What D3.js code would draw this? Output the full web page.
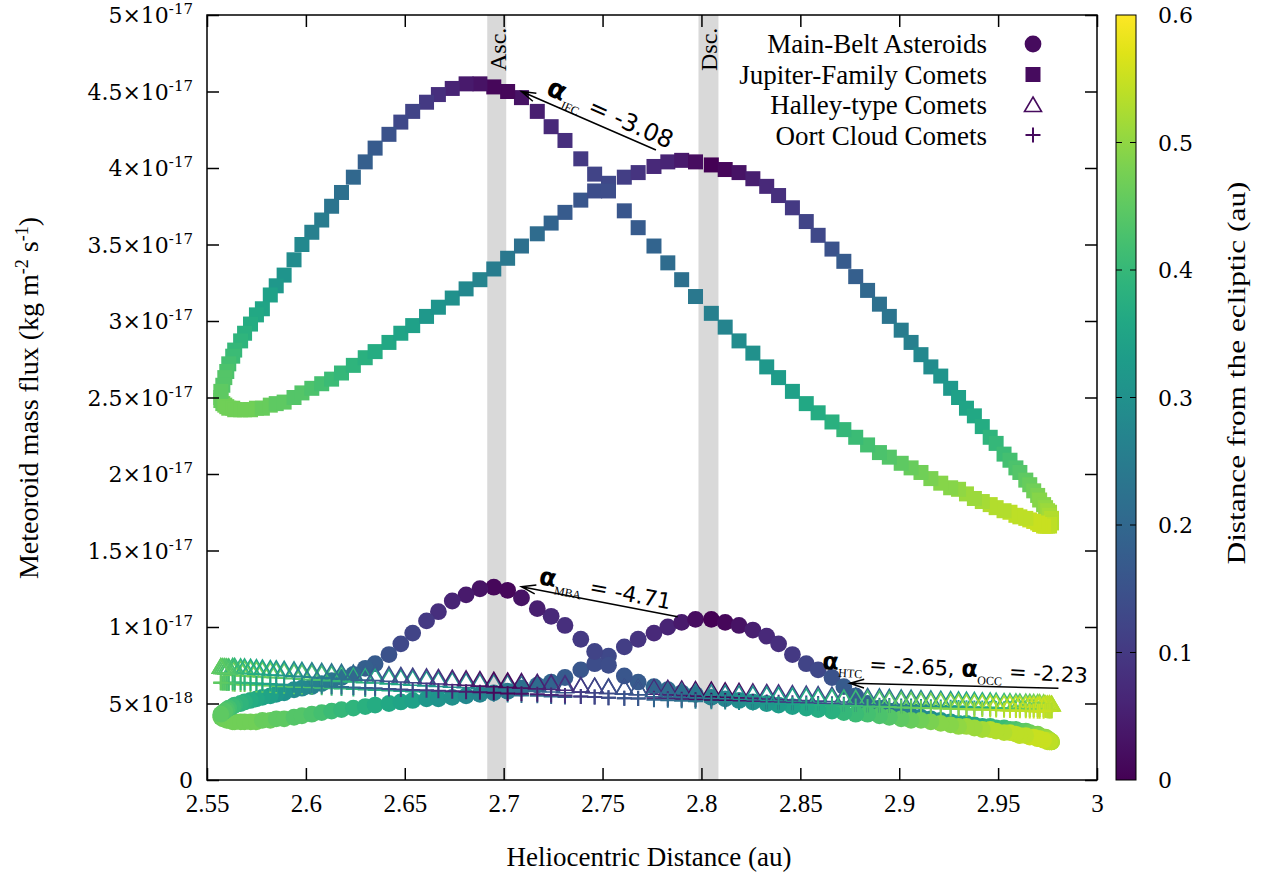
<!DOCTYPE html>
<html>
<head>
<meta charset="utf-8">
<script src="https://cdn.jsdelivr.net/npm/d3@7"></script>
<style>
body { margin: 0; background: #fff; }
</style>
</head>
<body>
<svg id="chart" width="1266" height="878" font-family="Liberation Serif"></svg>
<script>
// orbit sampled every 2 deg of mean anomaly, perihelion (i=0) -> aphelion (i=90)
// outbound half uses zOut / *Out, inbound half (same distances) uses zIn / *In
let dist = [2.557, 2.557, 2.558, 2.559, 2.560, 2.561, 2.563, 2.564, 2.567, 2.569,
    2.572, 2.575, 2.578, 2.582, 2.585, 2.589, 2.594, 2.598, 2.603, 2.608,
    2.613, 2.618, 2.624, 2.630, 2.635, 2.642, 2.648, 2.654, 2.661, 2.667,
    2.674, 2.681, 2.688, 2.695, 2.702, 2.709, 2.717, 2.724, 2.731, 2.739,
    2.746, 2.753, 2.761, 2.768, 2.776, 2.783, 2.790, 2.797, 2.805, 2.812,
    2.819, 2.826, 2.833, 2.839, 2.846, 2.853, 2.859, 2.866, 2.872, 2.878,
    2.884, 2.890, 2.895, 2.901, 2.906, 2.911, 2.916, 2.921, 2.926, 2.930,
    2.934, 2.938, 2.942, 2.946, 2.949, 2.953, 2.956, 2.959, 2.961, 2.964,
    2.966, 2.968, 2.970, 2.971, 2.973, 2.974, 2.975, 2.976, 2.976, 2.977,
    2.977]

// distance from the ecliptic (au)
let zOut = [0.45, 0.46, 0.46, 0.47, 0.47, 0.47, 0.47, 0.47, 0.47, 0.47,
    0.47, 0.47, 0.46, 0.46, 0.45, 0.45, 0.44, 0.44, 0.43, 0.42,
    0.41, 0.40, 0.39, 0.38, 0.37, 0.36, 0.35, 0.34, 0.32, 0.31,
    0.30, 0.28, 0.27, 0.25, 0.24, 0.22, 0.21, 0.19, 0.17, 0.16,
    0.14, 0.13, 0.11, 0.09, 0.07, 0.06, 0.04, 0.02, 0.00, 0.01,
    0.03, 0.05, 0.07, 0.08, 0.10, 0.12, 0.13, 0.15, 0.17, 0.18,
    0.20, 0.22, 0.23, 0.25, 0.26, 0.28, 0.29, 0.31, 0.32, 0.34,
    0.35, 0.36, 0.37, 0.39, 0.40, 0.41, 0.42, 0.43, 0.44, 0.45,
    0.46, 0.47, 0.48, 0.49, 0.49, 0.50, 0.51, 0.51, 0.52, 0.53,
    0.53]
let zIn = [0.45, 0.45, 0.44, 0.44, 0.43, 0.42, 0.41, 0.40, 0.39, 0.38,
    0.37, 0.36, 0.35, 0.34, 0.32, 0.31, 0.29, 0.28, 0.26, 0.25,
    0.23, 0.22, 0.20, 0.18, 0.17, 0.15, 0.13, 0.12, 0.10, 0.08,
    0.06, 0.04, 0.03, 0.01, 0.01, 0.03, 0.05, 0.07, 0.08, 0.10,
    0.12, 0.14, 0.16, 0.17, 0.19, 0.21, 0.22, 0.24, 0.26, 0.27,
    0.29, 0.30, 0.32, 0.33, 0.34, 0.36, 0.37, 0.38, 0.40, 0.41,
    0.42, 0.43, 0.44, 0.45, 0.46, 0.47, 0.48, 0.49, 0.49, 0.50,
    0.51, 0.51, 0.52, 0.53, 0.53, 0.53, 0.54, 0.54, 0.54, 0.54,
    0.55, 0.55, 0.55, 0.55, 0.55, 0.54, 0.54, 0.54, 0.54, 0.53,
    0.53]

// meteoroid mass flux, in units of 1e-17 kg m^-2 s^-1
let mbaOut = [0.42, 0.41, 0.40, 0.40, 0.39, 0.39, 0.38, 0.38, 0.38, 0.38,
    0.38, 0.38, 0.39, 0.39, 0.40, 0.40, 0.41, 0.42, 0.43, 0.44,
    0.45, 0.46, 0.47, 0.48, 0.49, 0.50, 0.51, 0.52, 0.53, 0.53,
    0.54, 0.55, 0.56, 0.57, 0.58, 0.60, 0.62, 0.64, 0.67, 0.72,
    0.76, 0.81, 0.87, 0.92, 0.96, 1.00, 1.03, 1.05, 1.05, 1.03,
    1.01, 0.98, 0.94, 0.89, 0.82, 0.76, 0.72, 0.67, 0.61, 0.55,
    0.50, 0.47, 0.45, 0.43, 0.42, 0.41, 0.40, 0.39, 0.38, 0.37,
    0.37, 0.36, 0.35, 0.35, 0.34, 0.34, 0.33, 0.33, 0.32, 0.32,
    0.31, 0.30, 0.30, 0.29, 0.28, 0.28, 0.27, 0.26, 0.26, 0.25,
    0.25]
let mbaIn = [0.42, 0.43, 0.44, 0.45, 0.46, 0.47, 0.48, 0.49, 0.50, 0.51,
    0.52, 0.53, 0.54, 0.55, 0.56, 0.57, 0.59, 0.60, 0.61, 0.63,
    0.65, 0.67, 0.69, 0.73, 0.76, 0.82, 0.89, 0.96, 1.04, 1.10,
    1.17, 1.21, 1.25, 1.26, 1.24, 1.19, 1.12, 1.07, 1.01, 0.92,
    0.84, 0.75, 0.68, 0.64, 0.61, 0.59, 0.57, 0.56, 0.54, 0.53,
    0.52, 0.51, 0.50, 0.49, 0.48, 0.47, 0.46, 0.45, 0.44, 0.43,
    0.43, 0.42, 0.41, 0.40, 0.39, 0.39, 0.38, 0.37, 0.36, 0.35,
    0.35, 0.34, 0.33, 0.33, 0.32, 0.31, 0.31, 0.30, 0.29, 0.29,
    0.28, 0.28, 0.27, 0.27, 0.26, 0.26, 0.25, 0.25, 0.25, 0.25,
    0.25]
let jfcOut = [2.50, 2.48, 2.46, 2.45, 2.44, 2.43, 2.43, 2.42, 2.42, 2.42,
    2.42, 2.43, 2.43, 2.45, 2.46, 2.47, 2.50, 2.53, 2.56, 2.59,
    2.62, 2.66, 2.71, 2.76, 2.80, 2.86, 2.92, 2.97, 3.03, 3.09,
    3.15, 3.21, 3.27, 3.34, 3.41, 3.49, 3.57, 3.64, 3.71, 3.79,
    3.85, 3.90, 3.94, 3.97, 4.01, 4.04, 4.05, 4.04, 4.02, 3.99,
    3.97, 3.93, 3.88, 3.82, 3.74, 3.65, 3.56, 3.47, 3.39, 3.29,
    3.20, 3.11, 3.03, 2.94, 2.86, 2.78, 2.70, 2.64, 2.56, 2.50,
    2.43, 2.38, 2.31, 2.24, 2.20, 2.13, 2.09, 2.04, 2.01, 1.96,
    1.93, 1.89, 1.86, 1.83, 1.80, 1.78, 1.76, 1.75, 1.73, 1.71,
    1.69]
let jfcIn = [2.50, 2.54, 2.58, 2.63, 2.67, 2.72, 2.77, 2.81, 2.87, 2.92,
    2.98, 3.04, 3.08, 3.17, 3.23, 3.30, 3.40, 3.50, 3.58, 3.66,
    3.75, 3.84, 3.94, 4.04, 4.13, 4.22, 4.30, 4.37, 4.43, 4.48,
    4.52, 4.55, 4.55, 4.53, 4.50, 4.46, 4.37, 4.27, 4.18, 4.06,
    3.96, 3.85, 3.72, 3.61, 3.49, 3.38, 3.27, 3.16, 3.05, 2.96,
    2.87, 2.79, 2.70, 2.63, 2.54, 2.46, 2.40, 2.34, 2.29, 2.24,
    2.19, 2.14, 2.11, 2.07, 2.04, 2.01, 1.97, 1.94, 1.91, 1.90,
    1.87, 1.84, 1.82, 1.80, 1.78, 1.76, 1.75, 1.73, 1.72, 1.71,
    1.70, 1.69, 1.68, 1.67, 1.66, 1.66, 1.66, 1.66, 1.67, 1.68,
    1.69]
let htcOut = [0.740, 0.740, 0.739, 0.739, 0.738, 0.738, 0.727, 0.727, 0.724, 0.723,
    0.721, 0.718, 0.716, 0.713, 0.711, 0.708, 0.704, 0.701, 0.698, 0.694,
    0.691, 0.687, 0.683, 0.679, 0.676, 0.671, 0.667, 0.662, 0.658, 0.654,
    0.649, 0.645, 0.640, 0.636, 0.631, 0.627, 0.622, 0.618, 0.613, 0.617,
    0.613, 0.608, 0.604, 0.600, 0.603, 0.599, 0.595, 0.591, 0.587, 0.583,
    0.579, 0.576, 0.572, 0.569, 0.565, 0.561, 0.558, 0.555, 0.552, 0.549,
    0.546, 0.543, 0.540, 0.537, 0.535, 0.532, 0.530, 0.528, 0.525, 0.524,
    0.522, 0.520, 0.518, 0.517, 0.515, 0.513, 0.512, 0.511, 0.510, 0.509,
    0.508, 0.507, 0.506, 0.506, 0.505, 0.497, 0.496, 0.496, 0.496, 0.495,
    0.495]
let htcIn = [0.740, 0.740, 0.739, 0.739, 0.738, 0.738, 0.743, 0.743, 0.740, 0.739,
    0.737, 0.734, 0.732, 0.729, 0.727, 0.724, 0.720, 0.717, 0.714, 0.710,
    0.707, 0.703, 0.699, 0.695, 0.692, 0.687, 0.683, 0.678, 0.674, 0.670,
    0.665, 0.661, 0.656, 0.652, 0.647, 0.643, 0.638, 0.634, 0.629, 0.617,
    0.613, 0.608, 0.604, 0.600, 0.587, 0.583, 0.579, 0.575, 0.571, 0.567,
    0.563, 0.560, 0.556, 0.553, 0.549, 0.545, 0.542, 0.539, 0.536, 0.533,
    0.530, 0.527, 0.524, 0.521, 0.519, 0.516, 0.514, 0.512, 0.509, 0.508,
    0.506, 0.504, 0.502, 0.501, 0.499, 0.497, 0.496, 0.495, 0.494, 0.493,
    0.492, 0.491, 0.490, 0.490, 0.489, 0.497, 0.496, 0.496, 0.496, 0.495,
    0.495]
let occOut = [0.635, 0.635, 0.634, 0.634, 0.633, 0.633, 0.627, 0.626, 0.625, 0.624,
    0.622, 0.621, 0.619, 0.617, 0.615, 0.613, 0.610, 0.608, 0.606, 0.603,
    0.600, 0.598, 0.595, 0.591, 0.589, 0.585, 0.582, 0.579, 0.576, 0.573,
    0.570, 0.566, 0.563, 0.560, 0.556, 0.553, 0.550, 0.546, 0.543, 0.545,
    0.542, 0.538, 0.535, 0.532, 0.534, 0.531, 0.528, 0.525, 0.522, 0.519,
    0.516, 0.513, 0.510, 0.508, 0.505, 0.503, 0.500, 0.498, 0.495, 0.493,
    0.491, 0.488, 0.487, 0.484, 0.483, 0.481, 0.479, 0.477, 0.475, 0.474,
    0.473, 0.471, 0.470, 0.468, 0.467, 0.466, 0.465, 0.464, 0.463, 0.462,
    0.461, 0.461, 0.460, 0.460, 0.459, 0.454, 0.453, 0.453, 0.453, 0.452,
    0.452]
let occIn = [0.635, 0.635, 0.634, 0.634, 0.633, 0.633, 0.637, 0.636, 0.635, 0.634,
    0.632, 0.631, 0.629, 0.627, 0.625, 0.623, 0.620, 0.618, 0.616, 0.613,
    0.610, 0.608, 0.605, 0.601, 0.599, 0.595, 0.592, 0.589, 0.586, 0.583,
    0.580, 0.576, 0.573, 0.570, 0.566, 0.563, 0.560, 0.556, 0.553, 0.545,
    0.542, 0.538, 0.535, 0.532, 0.524, 0.521, 0.518, 0.515, 0.512, 0.509,
    0.506, 0.503, 0.500, 0.498, 0.495, 0.493, 0.490, 0.488, 0.485, 0.483,
    0.481, 0.478, 0.477, 0.474, 0.473, 0.471, 0.469, 0.467, 0.465, 0.464,
    0.463, 0.461, 0.460, 0.458, 0.457, 0.456, 0.455, 0.454, 0.453, 0.452,
    0.451, 0.451, 0.450, 0.450, 0.449, 0.454, 0.453, 0.453, 0.453, 0.452,
    0.452]

let xTicks = [2.55, 2.6, 2.65, 2.7, 2.75, 2.8, 2.85, 2.9, 2.95, 3]
let xTickLabels = ["2.55", "2.6", "2.65", "2.7", "2.75", "2.8", "2.85", "2.9", "2.95", "3"]
let yTicks = [0, 0.5, 1, 1.5, 2, 2.5, 3, 3.5, 4, 4.5, 5]
let yTickMant = ["0", "5", "1", "1.5", "2", "2.5", "3", "3.5", "4", "4.5", "5"]
let yTickExp = ["", "-18", "-17", "-17", "-17", "-17", "-17", "-17", "-17", "-17", "-17"]
let cbTicks = [0, 0.1, 0.2, 0.3, 0.4, 0.5, 0.6]
let cbTickLabels = ["0", "0.1", "0.2", "0.3", "0.4", "0.5", "0.6"]

// node crossings (shaded) and power-law annotations
let nodeNames = ["Asc.", "Dsc."]
let nodeLo = [2.6917, 2.7985]
let nodeHi = [2.7013, 2.8086]
let arrowFrom = [[2.777, 4.118], [2.788, 1.067], [2.9805, 0.599]]
let arrowTo = [[2.709, 4.50], [2.709, 1.263], [2.875, 0.632]]

let legendNames = ["Main-Belt Asteroids", "Jupiter-Family Comets", "Halley-type Comets", "Oort Cloud Comets"]

let svg = d3.select("#chart")
let x = d3.scaleLinear().domain([2.55, 3]).range([207, 1097])
let y = d3.scaleLinear().domain([0, 5]).range([780, 15])
let color = d3.scaleSequential(d3.interpolateViridis).domain([0, 0.6])
let legendColor = "#460b5e"

function orbit(outFlux, inFlux) {
    let pts = []
    dist.forEach(function (r, i) {
        pts.push({ r: r, f: outFlux[i], z: zOut[i] })
    })
    for (let i = dist.length - 2; i > 0; i--) {
        pts.push({ r: dist[i], f: inFlux[i], z: zIn[i] })
    }
    return pts
}

// shaded node bands
svg.append("g").selectAll("rect")
    .data(nodeNames)
    .join("rect")
    .attr("x", (d, i) => x(nodeLo[i]))
    .attr("width", (d, i) => x(nodeHi[i]) - x(nodeLo[i]))
    .attr("y", y(5))
    .attr("height", y(0) - y(5))
    .attr("fill", "#d9d9d9")

svg.append("g").selectAll("text")
    .data(nodeNames)
    .join("text")
    .attr("transform", (d, i) => "translate(" + (x((nodeLo[i] + nodeHi[i]) / 2) + 9) + ",71) rotate(-90)")
    .attr("font-size", 24)
    .text(d => d)

// markers
let mbaPts = orbit(mbaOut, mbaIn)
let jfcPts = orbit(jfcOut, jfcIn)
let htcPts = orbit(htcOut, htcIn)
let occPts = orbit(occOut, occIn)

svg.append("g").selectAll("circle")
    .data(mbaPts)
    .join("circle")
    .attr("cx", d => x(d.r))
    .attr("cy", d => y(d.f))
    .attr("r", 8.4)
    .attr("fill", d => color(d.z))

svg.append("g").selectAll("rect")
    .data(jfcPts)
    .join("rect")
    .attr("x", d => x(d.r) - 7.5)
    .attr("y", d => y(d.f) - 7.5)
    .attr("width", 15)
    .attr("height", 15)
    .attr("fill", d => color(d.z))

let triPath = "M0,-8L8.5,6.5L-8.5,6.5Z"
svg.append("g").selectAll("path")
    .data(htcPts)
    .join("path")
    .attr("d", triPath)
    .attr("transform", d => "translate(" + x(d.r) + "," + y(d.f) + ")")
    .attr("fill", "none")
    .attr("stroke", d => color(d.z))
    .attr("stroke-width", 1.6)

let plusPath = "M-7.5,0H7.5M0,-7.5V7.5"
svg.append("g").selectAll("path")
    .data(occPts)
    .join("path")
    .attr("d", plusPath)
    .attr("transform", d => "translate(" + x(d.r) + "," + y(d.f) + ")")
    .attr("stroke", d => color(d.z))
    .attr("stroke-width", 2)

// axes
let axes = svg.append("g")
axes.append("g").attr("transform", "translate(0,780)")
    .call(d3.axisBottom(x).tickValues(xTicks).tickSize(-12).tickPadding(14).tickFormat((d, i) => xTickLabels[i]))
axes.append("g").attr("transform", "translate(0,15)")
    .call(d3.axisTop(x).tickValues(xTicks).tickSize(-12).tickFormat(""))
axes.append("g").attr("transform", "translate(207,0)")
    .call(d3.axisLeft(y).tickValues(yTicks).tickSize(-12).tickFormat(""))
axes.append("g").attr("transform", "translate(1097,0)")
    .call(d3.axisRight(y).tickValues(yTicks).tickSize(-12).tickFormat(""))
axes.selectAll(".domain").remove()
axes.selectAll("line").attr("stroke", "#000").attr("stroke-width", 1.5)
axes.selectAll("text")
    .attr("font-family", "Liberation Serif")
    .attr("font-size", 25)
    .attr("fill", "#000")

axes.append("rect")
    .attr("x", 207).attr("y", 15)
    .attr("width", 890).attr("height", 765)
    .attr("fill", "none").attr("stroke", "#000").attr("stroke-width", 1.5)

let yLab = svg.append("g").selectAll("text")
    .data(yTicks)
    .join("text")
    .attr("x", 193)
    .attr("y", d => y(d) + 8)
    .attr("text-anchor", "end")
    .attr("font-family", "DejaVu Serif")
    .attr("font-size", 22)
yLab.append("tspan").text((d, i) => yTickMant[i] + (yTickExp[i] ? "\u00d710" : ""))
yLab.append("tspan").attr("dy", -9).attr("font-size", 15).text((d, i) => yTickExp[i])

// axis titles
svg.append("text")
    .attr("x", 649).attr("y", 866)
    .attr("text-anchor", "middle")
    .attr("font-size", 27)
    .text("Heliocentric Distance (au)")

let yt = svg.append("text")
    .attr("transform", "translate(38,398) rotate(-90)")
    .attr("text-anchor", "middle")
    .attr("font-size", 28)
yt.append("tspan").text("Meteoroid mass flux (kg m")
yt.append("tspan").attr("dy", -10).attr("font-size", 18).text("-2")
yt.append("tspan").attr("dy", 10).text(" s")
yt.append("tspan").attr("dy", -10).attr("font-size", 18).text("-1")
yt.append("tspan").attr("dy", 10).text(")")

// colour bar
let cbX = 1116, cbW = 20
let cy = d3.scaleLinear().domain([0, 0.6]).range([780, 15])
let grad = svg.append("defs").append("linearGradient")
    .attr("id", "viridis")
    .attr("x1", 0).attr("y1", 1).attr("x2", 0).attr("y2", 0)
d3.range(0, 1.0001, 0.05).forEach(function (t) {
    grad.append("stop").attr("offset", t).attr("stop-color", d3.interpolateViridis(t))
})
svg.append("rect")
    .attr("x", cbX).attr("y", cy(0.6))
    .attr("width", cbW).attr("height", cy(0) - cy(0.6))
    .attr("fill", "url(#viridis)")
    .attr("stroke", "#000").attr("stroke-width", 1)
let cb = svg.append("g")
cb.selectAll("path")
    .data(cbTicks.slice(1, -1))
    .join("path")
    .attr("d", d => "M" + cbX + "," + cy(d) + "h6M" + (cbX + cbW) + "," + cy(d) + "h-6")
    .attr("stroke", "#000").attr("stroke-width", 1)
cb.selectAll("text")
    .data(cbTicks)
    .join("text")
    .attr("x", 1158)
    .attr("y", d => cy(d) + 8)
    .attr("font-family", "DejaVu Serif")
    .attr("font-size", 22)
    .text((d, i) => cbTickLabels[i])
svg.append("text")
    .attr("transform", "translate(1245,373) rotate(-90)")
    .attr("text-anchor", "middle")
    .attr("font-size", 25)
    .attr("textLength", 383)
    .attr("lengthAdjust", "spacingAndGlyphs")
    .text("Distance from the ecliptic (au)")

// legend
let leg = svg.append("g")
leg.selectAll("text")
    .data(legendNames)
    .join("text")
    .attr("x", 987)
    .attr("y", (d, i) => 53 + i * 30.5)
    .attr("text-anchor", "end")
    .attr("font-size", 27)
    .text(d => d)
leg.append("circle").attr("cx", 1033).attr("cy", 44).attr("r", 8.4).attr("fill", legendColor)
leg.append("rect").attr("x", 1025.5).attr("y", 67).attr("width", 15).attr("height", 15).attr("fill", legendColor)
leg.append("path").attr("d", triPath).attr("transform", "translate(1033,105)")
    .attr("fill", "none").attr("stroke", legendColor).attr("stroke-width", 1.6)
leg.append("path").attr("d", plusPath).attr("transform", "translate(1033,135)")
    .attr("stroke", legendColor).attr("stroke-width", 2)

// annotation arrows
let ann = svg.append("g")
arrowFrom.forEach(function (a, i) {
    let x1 = x(a[0]), y1 = y(a[1])
    let x2 = x(arrowTo[i][0]), y2 = y(arrowTo[i][1])
    let ang = Math.atan2(y1 - y2, x1 - x2)
    let hl = 15, hw = 0.3
    let p = "M" + x1 + "," + y1 + "L" + x2 + "," + y2 +
        "M" + (x2 + hl * Math.cos(ang + hw)) + "," + (y2 + hl * Math.sin(ang + hw)) +
        "L" + x2 + "," + y2 +
        "L" + (x2 + hl * Math.cos(ang - hw)) + "," + (y2 + hl * Math.sin(ang - hw))
    ann.append("path").attr("d", p).attr("fill", "none").attr("stroke", "#000").attr("stroke-width", 1.5)
})

function alphaLabel(px, py, angle, size, parts) {
    let t = ann.append("text")
        .attr("transform", "translate(" + px + "," + py + ") rotate(" + angle + ")")
        .attr("font-family", "DejaVu Sans")
        .attr("font-size", size)
    let down = false
    parts.forEach(function (p) {
        let s = t.append("tspan").text(p[0])
        if (p[1] == "a") {
            s.attr("font-weight", "bold").attr("font-size", size + 3)
            if (down) s.attr("dy", -7)
            down = false
        } else if (p[1] == "sub") {
            s.attr("font-family", "Liberation Serif").attr("font-size", 12).attr("dy", 7)
            down = true
        } else {
            if (down) s.attr("dy", -7)
            down = false
        }
    })
}
alphaLabel(545, 94, 24, 24, [["\u03b1", "a"], ["JFC", "sub"], [" = -3.08", ""]])
alphaLabel(538, 584, 11, 22, [["\u03b1", "a"], ["MBA", "sub"], [" = -4.71", ""]])
alphaLabel(822, 669, 3, 21, [["\u03b1", "a"], ["HTC", "sub"], [" = -2.65, ", ""], ["\u03b1", "a"], ["OCC", "sub"], [" = -2.23", ""]])
</script>
</body>
</html>
